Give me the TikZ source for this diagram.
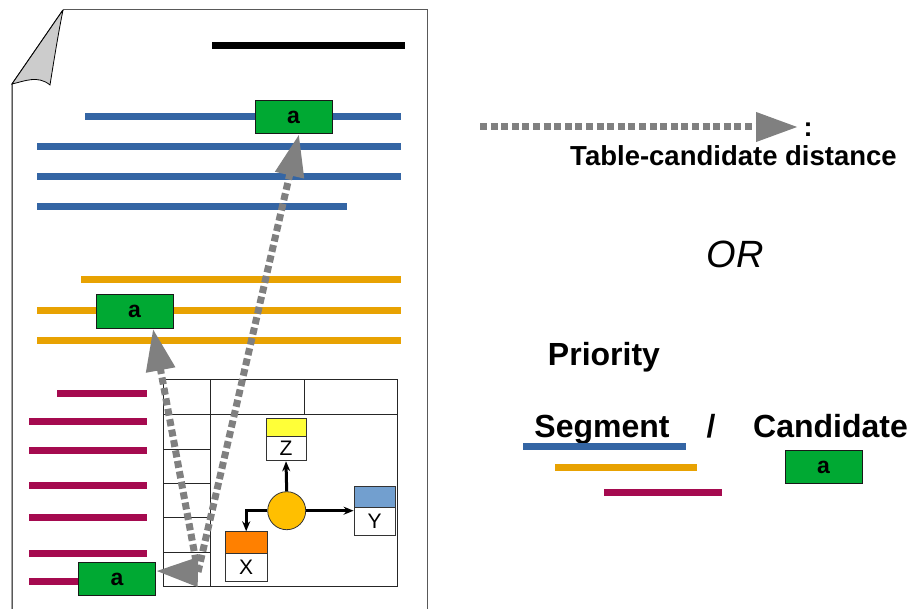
\documentclass[tikz,border=0pt]{standalone}
\usepackage{fontspec}
\setmainfont{Liberation Sans}
\usetikzlibrary{arrows.meta,calc}
\definecolor{segblue}{HTML}{3465A4}
\definecolor{segorange}{HTML}{E8A202}
\definecolor{segred}{HTML}{A50A4F}
\definecolor{candgreen}{HTML}{00A933}
\definecolor{distgray}{HTML}{808080}
\definecolor{foldgray}{HTML}{CCCCCC}
\definecolor{gold}{HTML}{FFBF00}
\definecolor{zyellow}{HTML}{FFFF38}
\definecolor{yblue}{HTML}{729FCF}
\definecolor{xorange}{HTML}{FF8000}
\begin{document}
\begin{tikzpicture}[x=1pt,y=-1pt,
  seg/.style={line width=7pt},
  cand/.style={draw=black!90,line width=1pt,fill=candgreen,minimum width=77pt,minimum height=33.5pt,inner sep=0pt,font=\fontsize{23}{23}\selectfont\bfseries},
  distarrow/.style={draw=distgray,line width=7pt,dash pattern=on 7pt off 3.6pt,-{Triangle[length=42pt,width=28pt]}},
  head/.style={draw=black!80,line width=0.8pt,inner sep=0pt},
  lab/.style={draw=black!80,line width=0.8pt,fill=white,inner sep=0pt,font=\fontsize{21}{21}\selectfont},
  flow/.style={draw=black,line width=3pt,-{Stealth[length=10pt,width=8pt]}},
  tline/.style={draw=black!85,line width=0.8pt},
  big/.style={font=\fontsize{32}{32}\selectfont\bfseries,inner sep=0pt}
]
\useasboundingbox (0,0) rectangle (909,609);
% page
\draw[black,line width=1pt] (12,609) -- (12,84) -- (63,10);
\draw[black!65,line width=1pt] (63,10) -- (427,10) -- (427,609);
\fill[foldgray] (63,10) -- (12,84) .. controls (25,81) and (38,75) .. (50,85) .. controls (54,60) and (58,35) .. (63,10);
\draw[black,line width=0.8pt] (63,10) -- (12,84) .. controls (25,81) and (38,75) .. (50,85) .. controls (54,60) and (58,35) .. (63,10);
% title bar
\draw[black,line width=7pt] (212,46) -- (405,46);
% blue segment
\draw[seg,segblue] (85,116.5) -- (401,116.5);
\draw[seg,segblue] (37,146.5) -- (401,146.5);
\draw[seg,segblue] (37,176.5) -- (401,176.5);
\draw[seg,segblue] (37,206.5) -- (347,206.5);
% orange segment
\draw[seg,segorange] (81,280) -- (401,280);
\draw[seg,segorange] (37,310) -- (401,310);
\draw[seg,segorange] (37,340) -- (401,340);
% red segment
\draw[seg,segred] (57,393.3) -- (147,393.3);
\draw[seg,segred] (29,421.7) -- (147,421.7);
\draw[seg,segred] (29,450) -- (147,450);
\draw[seg,segred] (29,485.7) -- (147,485.7);
\draw[seg,segred] (29,517.7) -- (147,517.7);
\draw[seg,segred] (29,553) -- (147,553);
\draw[seg,segred] (29,581.7) -- (90,581.7);
% table
\draw[tline] (163.3,379.3) rectangle (397.7,586);
\draw[tline] (210.7,379.3) -- (210.7,586);
\draw[tline] (163.3,414) -- (397.7,414);
\draw[tline] (304,379.3) -- (304,414);
\foreach \yy in {449,483.3,517.3,552} \draw[tline] (163.3,\yy) -- (210.7,\yy);
% graph inside table
\node[head,fill=zyellow,minimum width=40pt,minimum height=17.7pt] (zt) at (286,427.2) {};
\node[lab,minimum width=40pt,minimum height=24.7pt] (z) at (286,448.5) {Z};
\node[head,fill=yblue,minimum width=41pt,minimum height=20.6pt] (yt) at (374.5,497) {};
\node[lab,minimum width=41pt,minimum height=27.7pt] (y) at (374.5,521.2) {Y};
\node[head,fill=xorange,minimum width=42.3pt,minimum height=21.6pt] (xt) at (246.2,542.5) {};
\node[lab,minimum width=42.3pt,minimum height=27.7pt] (x) at (246.2,567.2) {X};
\node[draw=black!80,line width=0.8pt,fill=gold,circle,minimum size=38pt,inner sep=0pt] (c) at (286.7,510.7) {};
\draw[flow] (c.north) -- (z.south);
\draw[flow] (c.east) -- (c.east -| y.west);
\draw[flow] (c.west) -| (xt.north);
% candidates
\node[cand] (ga) at (293.5,117) {a};
\node[cand] (gm) at (134.5,311.5) {a};
\node[cand] (gb) at (117,579) {a};
% distance arrows
\coordinate (s) at (198,572);
\draw[distarrow] (s) -- ($(ga.south)+(5.5,0)$);
\draw[distarrow] (s) -- ($(gm.south)+(18.5,0)$);
\draw[distarrow] (s) -- ($(gb.east)+(0,-8)$);
% legend
\coordinate (ls) at (480,127);
\coordinate (le) at (798,127);
\draw[distarrow] (ls) -- (le);
\node[font=\fontsize{27}{27}\selectfont\bfseries,inner sep=0pt,anchor=base] (colon) at (808,137) {:};
\node[font=\fontsize{27.5}{27.5}\selectfont\bfseries,inner sep=0pt,anchor=base] (tcd) at (733.5,165.5) {Table-candidate distance};
\node[font=\fontsize{38}{38}\selectfont\itshape,inner sep=0pt] (or) at (735,254) {OR};
\node[big,anchor=base] (prio) at (604,365) {Priority};
\node[big,anchor=base] (segm) at (602,437) {Segment};
\node[big,anchor=base] (slash) at (711,437) {/};
\node[big,anchor=base] (candt) at (830.5,437) {Candidate};
\draw[seg,segblue] (523,446.7) -- (686,446.7);
\draw[seg,segorange] (555,467.7) -- (697,467.7);
\draw[seg,segred] (604,492.7) -- (722,492.7);
\node[cand] (gl) at (823.5,467) {a};
\end{tikzpicture}
\end{document}
